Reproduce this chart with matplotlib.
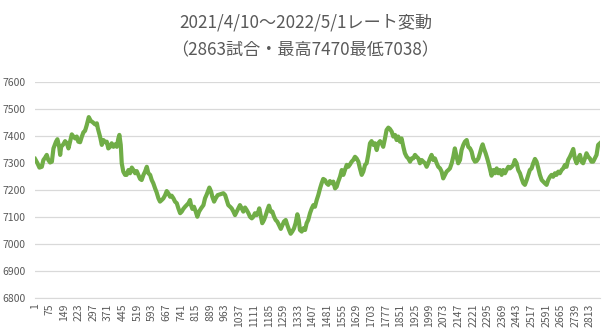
import numpy as np
import matplotlib
matplotlib.use('Agg')
import matplotlib.pyplot as plt

plt.rcParams['font.family'] = ['Noto Sans CJK JP', 'DejaVu Sans']

# 試合番号とその時点のレート
games = [1, 13, 23, 35, 43, 52, 60, 68, 77, 86, 94, 107, 114, 123, 128, 133,
         144, 153, 162, 170, 178, 187, 195, 204, 212, 220, 229, 238, 246, 254,
         263, 273, 283, 293, 305, 314, 319, 330, 339, 347, 356, 364, 372, 381,
         389, 398, 406, 415, 423, 428, 435, 440, 448, 457,
         465, 474, 482, 491, 499, 508, 516, 524, 533, 541, 550, 558, 567, 575,
         584, 592, 600, 609, 617, 626, 634, 643, 651, 660, 668, 676, 685, 693,
         702, 710, 719, 727, 736, 744, 752, 761, 769, 778, 786, 791, 798, 806,
         815, 823, 832, 842, 854, 862, 871, 879, 884, 893, 899, 908, 916, 926,
         938, 955, 964, 972, 980, 989, 997, 1006, 1014, 1023, 1031, 1039, 1048,
         1056, 1065, 1073, 1082, 1090, 1099, 1107, 1115, 1124, 1132, 1137, 1144,
         1152, 1161, 1170, 1178, 1186, 1195, 1203, 1212, 1220, 1228, 1237, 1246,
         1254, 1262, 1271, 1279, 1288, 1296, 1304, 1313, 1321, 1330, 1337, 1343,
         1352, 1360, 1369, 1377, 1385, 1394, 1403, 1411, 1419,
         1428, 1436, 1445, 1453, 1461, 1470, 1478, 1487, 1495, 1504, 1512, 1521,
         1529, 1537, 1546, 1555, 1563, 1571, 1580, 1588, 1597, 1605, 1613, 1622,
         1630, 1639, 1647, 1656, 1664, 1673, 1681, 1689, 1698, 1706, 1715, 1723,
         1732, 1740, 1749, 1757, 1765, 1774, 1782, 1791, 1799, 1808, 1816, 1825,
         1833, 1841, 1850, 1858, 1867, 1875, 1884, 1892, 1901,
         1909, 1917, 1926, 1934, 1943, 1951, 1960, 1968, 1977, 1985, 1993, 2002,
         2010, 2019, 2027, 2036, 2044, 2053, 2061, 2069, 2078, 2086, 2095, 2103,
         2112, 2120, 2128, 2137, 2145, 2154, 2162, 2171, 2179, 2188, 2196, 2205,
         2213, 2221, 2230, 2238, 2247, 2255, 2264, 2269, 2275, 2284, 2292, 2301,
         2309, 2314, 2323, 2331, 2340, 2348, 2356, 2365, 2373, 2382,
         2390, 2399, 2407, 2416, 2424, 2432, 2441, 2449, 2458, 2466, 2475, 2483,
         2492, 2500, 2508, 2517, 2525, 2534, 2542, 2551, 2559, 2568, 2576, 2584,
         2593, 2601, 2610, 2618, 2626, 2635, 2643, 2652, 2660, 2669, 2677, 2686,
         2694, 2702, 2711, 2719, 2728, 2736, 2745, 2753, 2762, 2770, 2778, 2787,
         2795, 2804, 2812, 2820, 2829, 2837, 2846, 2854, 2863]

rating = [7315, 7299, 7283, 7286, 7311, 7320, 7330, 7311, 7302, 7305, 7354, 7379,
          7388, 7360, 7330, 7360, 7369, 7381, 7373, 7354, 7379, 7406, 7398, 7391,
          7398, 7379, 7377, 7398, 7414, 7419, 7441, 7470, 7456, 7451, 7443, 7447,
          7428, 7398, 7367, 7385, 7377, 7379, 7354, 7360, 7373, 7360, 7369, 7360,
          7391, 7404, 7367, 7299, 7268, 7256,
          7256, 7274, 7262, 7283, 7274, 7262, 7270, 7256, 7241, 7237, 7256, 7268,
          7286, 7262, 7256, 7237, 7225, 7206, 7191, 7169, 7157, 7163, 7169, 7181,
          7196, 7188, 7175, 7179, 7169, 7157, 7151, 7132, 7114, 7120, 7130, 7138,
          7144, 7151, 7163, 7144, 7130, 7138, 7120, 7101, 7120, 7132, 7144, 7169,
          7184, 7200, 7209, 7194, 7175, 7157, 7169, 7181,
          7184, 7188, 7181, 7163, 7144, 7138, 7132, 7120, 7107, 7120, 7132, 7144,
          7132, 7120, 7135, 7126, 7114, 7101, 7095, 7101, 7114, 7107, 7120, 7132,
          7107, 7077, 7089, 7107, 7126, 7142, 7120, 7120, 7101, 7089, 7083, 7070,
          7056, 7070, 7083, 7089, 7070, 7052, 7038, 7046, 7058, 7077, 7110, 7089,
          7052, 7046, 7058, 7052, 7077, 7089, 7114, 7132, 7144, 7138,
          7163, 7181, 7206, 7225, 7241, 7237, 7225, 7219, 7233, 7225, 7231, 7206,
          7212, 7231, 7249, 7274, 7256, 7274, 7293, 7286, 7295, 7305, 7311, 7323,
          7317, 7305, 7280, 7256, 7268, 7293, 7299, 7330, 7373, 7381, 7367, 7373,
          7348, 7373, 7381, 7373, 7360, 7391, 7422, 7431, 7426, 7416, 7398, 7404,
          7385, 7398, 7379, 7391, 7360, 7336, 7323, 7317, 7305,
          7317, 7317, 7330, 7323, 7317, 7299, 7311, 7305, 7299, 7286, 7299, 7317,
          7330, 7311, 7317, 7299, 7286, 7280, 7268, 7243, 7256, 7268, 7274, 7280,
          7299, 7323, 7354, 7323, 7299, 7311, 7348, 7367, 7379, 7385, 7360, 7354,
          7342, 7317, 7305, 7307, 7317, 7336, 7360, 7369, 7354, 7336, 7317, 7293,
          7268, 7253, 7274, 7262, 7280, 7262, 7274, 7256, 7274, 7262,
          7274, 7286, 7280, 7286, 7293, 7311, 7299, 7274, 7262, 7243, 7225, 7219,
          7237, 7256, 7274, 7280, 7299, 7315, 7305, 7280, 7256, 7237, 7231, 7225,
          7219, 7237, 7249, 7256, 7249, 7262, 7256, 7268, 7262, 7274, 7280, 7293,
          7286, 7311, 7323, 7336, 7352, 7317, 7299, 7317, 7330, 7305, 7299, 7317,
          7336, 7323, 7317, 7305, 7305, 7317, 7330, 7367, 7373]

n_games = 2863
tick_games = list(range(1, n_games + 1, 74))
yticks = [6800, 6900, 7000, 7100, 7200, 7300, 7400, 7500, 7600]

fig = plt.figure(figsize=(6.11, 3.32), dpi=100)
ax = fig.add_axes([35/611, 34/332, 565/611, 216/332])

ax.plot(games, rating, color='#70AD47', lw=3.0, solid_joinstyle='round')

ax.set_xlim(0.5, n_games + 0.5)
ax.set_ylim(6800, 7600)
ax.set_yticks(yticks)
ax.set_xticks(tick_games)
ax.set_xticklabels([str(t) for t in tick_games], rotation=90)
ax.grid(axis='y', color='#D9D9D9', lw=0.9)
ax.set_axisbelow(True)
for s in ['top', 'right', 'left']:
    ax.spines[s].set_visible(False)
ax.spines['bottom'].set_color('#D9D9D9')
ax.tick_params(axis='both', length=0, labelsize=7.5, colors='#595959')
ax.tick_params(axis='y', pad=7)
ax.tick_params(axis='x', pad=4)

fig.text(0.5, 1 - 22.5/332, '2021/4/10～2022/5/1レート変動', ha='center', va='center',
         fontsize=12.3, color='#595959')
fig.text(0.5, 1 - 50/332, '（2863試合・最高7470最低7038）', ha='center', va='center',
         fontsize=12.3, color='#595959')

fig.savefig('out.png', dpi=100)
